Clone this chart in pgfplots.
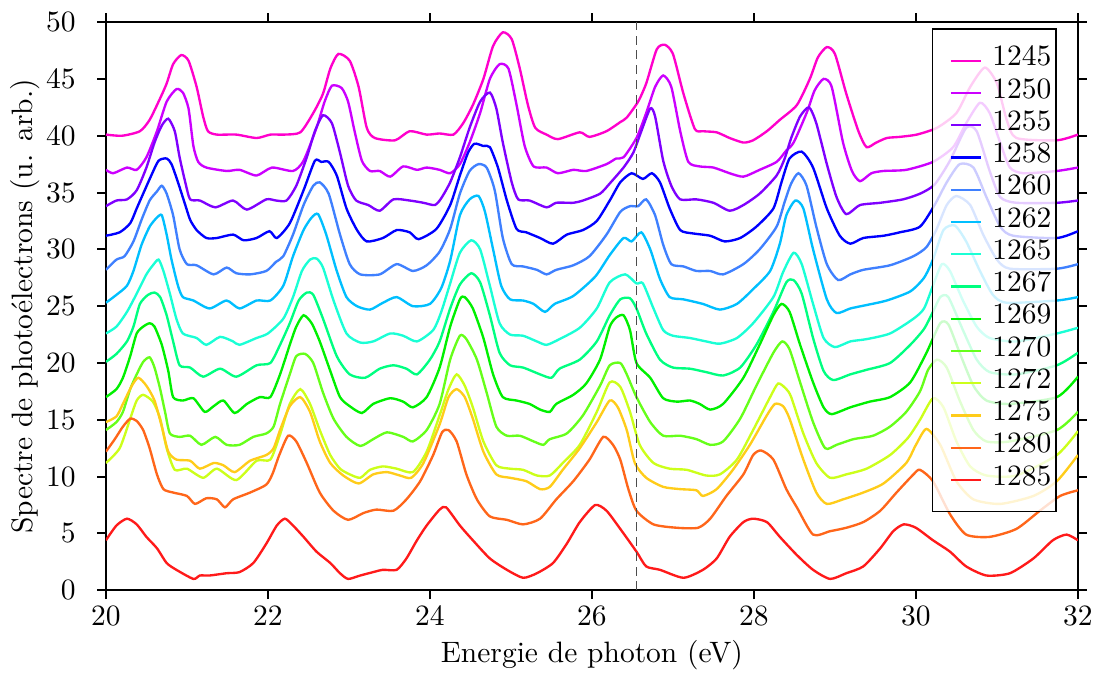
\documentclass[border=0pt]{standalone}
\usepackage{pgfplots}
\pgfplotsset{compat=1.18}
\definecolor{c1245}{HTML}{FF00CC}
\definecolor{c1250}{HTML}{CC00FF}
\definecolor{c1255}{HTML}{7F00FF}
\definecolor{c1258}{HTML}{0000FF}
\definecolor{c1260}{HTML}{3F80FF}
\definecolor{c1262}{HTML}{00BFFF}
\definecolor{c1265}{HTML}{1AFFD5}
\definecolor{c1267}{HTML}{00FF80}
\definecolor{c1269}{HTML}{00F000}
\definecolor{c1270}{HTML}{66FF1A}
\definecolor{c1272}{HTML}{CCFF1A}
\definecolor{c1275}{HTML}{FFCC1A}
\definecolor{c1280}{HTML}{FF661A}
\definecolor{c1285}{HTML}{FF1A1A}
\begin{document}
\begin{tikzpicture}
\begin{axis}[
  scale only axis, width=329.5pt, height=192.6pt,
  xmin=20, xmax=32, ymin=0, ymax=50,
  xtick={20,22,...,32}, ytick={0,5,...,50},
  tick align=outside, major tick length=3pt,
  axis line style={line width=0.7pt},
  tick style={line width=0.7pt, black},
  yticklabel style={xshift=-3.7pt},
  xticklabel style={yshift=1.2pt},
  xlabel={Energie de photon (eV)},
  ylabel={Spectre de photoélectrons (u. arb.)},
  xlabel style={at={(axis description cs:0.5,0)}, yshift=-21.9pt, anchor=center},
  ylabel style={at={(axis description cs:-0.0833,0.5)}, anchor=center},
  every axis plot/.append style={line width=0.8pt, smooth, tension=0.4},
  legend cell align=left,
  legend image code/.code={\path (0pt,0pt) (18pt,0pt); \draw[#1] (5.3pt,0pt) -- (15.5pt,0pt);},
  legend style={at={(0.978,0.989)}, anchor=north east, draw=black, line width=0.5pt,
    fill=white, fill opacity=0.8, draw opacity=1, text opacity=1,
    inner xsep=0.5pt, inner ysep=4.9pt, row sep=-0.77pt,
    nodes={inner sep=1pt, text height=6.6pt, text depth=3.1pt}, font=\normalsize},
]
\addplot[c1245] coordinates {(20.0,40.1) (20.2,40.0) (20.42,40.4) (20.54,41.4) (20.67,43.3) (20.75,44.6) (20.83,46.3) (20.93,47.1) (21.02,46.6) (21.12,44.3) (21.2,41.7) (21.26,40.4) (21.37,40.1) (21.61,40.1) (21.86,39.8) (22.03,40.1) (22.2,40.1) (22.4,40.3) (22.56,42.0) (22.68,43.7) (22.77,45.9) (22.87,47.2) (23.01,46.6) (23.12,44.3) (23.22,40.7) (23.32,39.8) (23.57,39.6) (23.75,40.4) (23.96,40.1) (24.12,40.2) (24.29,40.1) (24.41,41.1) (24.53,42.7) (24.66,45.0) (24.78,47.9) (24.9,49.1) (25.01,48.5) (25.11,45.9) (25.21,42.7) (25.3,40.7) (25.44,40.1) (25.58,39.7) (25.85,40.3) (25.97,39.9) (26.18,40.4) (26.35,41.2) (26.43,41.6) (26.57,43.0) (26.67,44.6) (26.8,47.6) (26.9,48.0) (27.0,47.2) (27.13,43.7) (27.27,40.6) (27.37,40.4) (27.54,40.3) (27.7,39.8) (27.87,39.4) (27.99,39.6) (28.16,40.4) (28.32,41.4) (28.53,42.7) (28.69,45.0) (28.79,46.9) (28.9,47.8) (29.0,47.2) (29.14,43.7) (29.29,40.4) (29.39,39.0) (29.51,39.4) (29.64,39.8) (29.8,39.9) (30.01,40.1) (30.26,40.7) (30.5,42.0) (30.67,44.3) (30.85,46.0) (31.0,44.6) (31.12,41.4) (31.24,39.8) (31.74,39.6) (32.0,40.1)};
\addlegendentry{1245}
\addplot[c1250] coordinates {(20.0,37.0) (20.09,36.7) (20.26,37.2) (20.38,37.0) (20.5,38.1) (20.63,40.4) (20.75,43.0) (20.87,44.1) (20.95,43.8) (21.02,42.4) (21.08,39.1) (21.14,37.7) (21.24,37.2) (21.49,36.9) (21.65,37.0) (21.86,36.5) (22.05,37.2) (22.31,36.9) (22.44,37.8) (22.6,40.7) (22.7,43.0) (22.79,44.4) (22.91,44.2) (22.99,43.0) (23.07,40.4) (23.16,37.8) (23.26,36.9) (23.38,36.9) (23.51,36.4) (23.67,37.3) (23.84,37.0) (23.96,37.2) (24.12,37.0) (24.25,36.7) (24.37,37.5) (24.49,39.4) (24.62,42.0) (24.74,45.0) (24.86,46.3) (24.97,45.9) (25.07,42.7) (25.17,39.1) (25.28,37.3) (25.44,37.2) (25.58,36.7) (25.77,37.0) (25.93,36.9) (26.18,37.5) (26.3,38.0) (26.39,38.1) (26.55,39.8) (26.67,42.0) (26.78,44.3) (26.88,45.3) (26.98,44.3) (27.09,40.4) (27.19,37.7) (27.33,37.3) (27.5,37.2) (27.7,36.7) (27.87,36.4) (28.07,37.0) (28.28,37.7) (28.4,38.7) (28.49,39.4) (28.65,42.0) (28.75,44.0) (28.86,45.0) (28.96,44.3) (29.1,39.4) (29.21,36.9) (29.31,36.0) (29.45,36.7) (29.6,36.9) (29.88,37.0) (30.21,37.7) (30.46,39.0) (30.62,41.1) (30.79,42.9) (30.91,42.0) (31.04,39.4) (31.16,37.2) (31.33,36.7) (31.74,36.9) (32.0,37.2)};
\addlegendentry{1250}
\addplot[c1255] coordinates {(20.0,33.8) (20.13,34.3) (20.26,34.4) (20.38,35.2) (20.5,37.2) (20.6,39.4) (20.69,40.9) (20.77,41.5) (20.85,40.4) (20.91,38.1) (20.98,35.9) (21.04,34.4) (21.16,34.3) (21.35,33.7) (21.57,34.3) (21.74,33.5) (21.98,34.4) (22.1,34.3) (22.23,34.3) (22.35,35.6) (22.48,38.1) (22.58,40.4) (22.68,41.8) (22.79,41.1) (22.89,38.5) (22.99,35.6) (23.09,34.3) (23.24,33.9) (23.38,33.4) (23.55,34.4) (23.75,34.3) (23.92,34.1) (24.06,33.9) (24.14,34.5) (24.25,35.9) (24.37,38.1) (24.49,40.7) (24.62,43.0) (24.74,43.8) (24.82,42.4) (24.9,39.4) (25.01,35.9) (25.09,34.4) (25.23,34.3) (25.44,33.7) (25.56,34.1) (25.77,34.1) (25.89,34.3) (26.1,34.9) (26.22,35.8) (26.39,37.2) (26.51,38.5) (26.61,40.4) (26.72,42.4) (26.78,41.7) (26.88,37.8) (26.98,35.6) (27.09,34.4) (27.29,34.4) (27.5,34.1) (27.7,33.4) (27.87,33.9) (28.07,34.9) (28.28,36.5) (28.38,38.0) (28.46,39.8) (28.57,41.7) (28.68,42.5) (28.77,41.1) (28.9,37.5) (29.02,34.6) (29.14,33.1) (29.31,33.9) (29.56,34.1) (29.84,34.4) (30.05,34.9) (30.23,35.7) (30.42,37.8) (30.62,40.7) (30.75,40.4) (30.91,36.9) (31.04,34.6) (31.24,34.1) (31.74,34.1) (32.0,34.3)};
\addlegendentry{1255}
\addplot[c1258] coordinates {(20.0,31.2) (20.17,31.5) (20.3,32.3) (20.38,33.6) (20.46,34.9) (20.56,36.5) (20.65,37.8) (20.75,38.0) (20.81,37.5) (20.89,35.9) (20.98,33.9) (21.04,32.6) (21.12,31.7) (21.24,31.0) (21.37,31.0) (21.57,31.3) (21.7,30.8) (21.86,31.0) (22.02,31.6) (22.11,31.0) (22.27,32.3) (22.44,35.2) (22.58,37.8) (22.66,37.7) (22.75,37.7) (22.85,36.5) (22.97,33.6) (23.1,31.7) (23.22,30.7) (23.42,31.0) (23.59,31.7) (23.75,31.5) (23.86,30.9) (24.08,31.8) (24.25,33.9) (24.37,36.5) (24.47,38.5) (24.55,39.3) (24.66,39.1) (24.74,39.0) (24.84,37.2) (24.95,34.3) (25.07,31.8) (25.19,31.5) (25.36,31.0) (25.52,30.5) (25.69,31.3) (25.89,31.7) (26.06,32.5) (26.22,34.3) (26.35,35.9) (26.49,36.7) (26.63,36.2) (26.74,36.7) (26.84,35.9) (26.96,33.6) (27.09,31.7) (27.25,31.4) (27.46,31.2) (27.64,30.7) (27.83,31.0) (28.03,32.0) (28.24,33.6) (28.34,35.9) (28.44,38.0) (28.59,38.6) (28.73,37.2) (28.9,33.6) (29.06,31.2) (29.19,30.5) (29.35,31.0) (29.6,31.2) (29.8,31.5) (30.05,32.0) (30.23,33.9) (30.38,35.9) (30.54,37.5) (30.71,37.2) (30.87,34.6) (31.04,32.0) (31.2,31.2) (31.74,31.0) (32.0,31.6)};
\addlegendentry{1258}
\addplot[c1260] coordinates {(20.0,28.2) (20.13,29.1) (20.23,29.4) (20.34,30.7) (20.44,32.6) (20.54,34.3) (20.63,35.1) (20.69,35.6) (20.75,34.9) (20.83,33.0) (20.91,30.0) (21.0,28.7) (21.12,28.6) (21.33,27.8) (21.49,28.4) (21.61,27.9) (21.78,27.8) (21.98,28.1) (22.1,28.9) (22.19,29.4) (22.31,31.3) (22.44,33.9) (22.56,35.6) (22.64,35.9) (22.75,34.9) (22.89,31.3) (23.01,28.7) (23.14,27.8) (23.38,27.8) (23.59,28.7) (23.79,28.1) (23.96,28.6) (24.12,29.8) (24.25,31.8) (24.37,34.9) (24.49,36.9) (24.6,37.5) (24.7,37.2) (24.8,35.2) (24.9,31.0) (25.01,28.7) (25.15,28.5) (25.32,28.2) (25.44,27.8) (25.56,28.2) (25.77,28.6) (25.97,29.4) (26.18,31.3) (26.35,33.3) (26.47,33.8) (26.57,33.8) (26.67,34.4) (26.78,33.0) (26.88,30.4) (26.98,28.7) (27.13,28.5) (27.29,28.1) (27.46,28.1) (27.62,27.8) (27.87,28.7) (28.07,30.0) (28.28,32.0) (28.38,34.2) (28.46,35.8) (28.55,36.7) (28.65,35.6) (28.77,32.0) (28.9,28.7) (29.04,27.3) (29.19,27.8) (29.35,28.2) (29.68,28.6) (29.97,29.4) (30.13,30.2) (30.25,31.7) (30.38,33.9) (30.5,34.7) (30.67,33.9) (30.83,31.3) (31.0,29.1) (31.16,28.3) (31.74,28.3) (32.0,28.7)};
\addlegendentry{1260}
\addplot[c1262] coordinates {(20.0,25.3) (20.13,26.0) (20.26,26.8) (20.34,28.1) (20.44,30.4) (20.54,32.0) (20.63,32.8) (20.69,33.0) (20.75,31.3) (20.81,29.1) (20.89,26.8) (20.95,25.8) (21.08,25.5) (21.28,24.8) (21.49,25.5) (21.65,24.8) (21.86,25.5) (22.03,25.5) (22.19,26.8) (22.31,29.4) (22.44,31.7) (22.54,32.8) (22.62,33.1) (22.72,31.3) (22.85,28.1) (22.97,25.8) (23.1,25.0) (23.26,24.7) (23.42,25.3) (23.59,25.8) (23.79,25.0) (24.0,25.2) (24.14,26.6) (24.25,29.0) (24.37,33.0) (24.49,34.4) (24.6,34.7) (24.68,33.3) (24.78,30.0) (24.88,26.8) (24.99,25.6) (25.15,25.5) (25.28,25.2) (25.42,24.5) (25.54,25.2) (25.77,25.9) (26.04,27.6) (26.22,29.5) (26.39,31.0) (26.49,30.7) (26.61,31.5) (26.72,30.0) (26.84,27.4) (26.96,25.8) (27.13,25.6) (27.37,25.2) (27.58,24.7) (27.79,25.2) (27.99,26.5) (28.2,28.1) (28.32,30.5) (28.4,33.0) (28.51,34.3) (28.61,33.6) (28.73,30.0) (28.9,25.6) (29.02,24.4) (29.19,24.8) (29.39,25.1) (29.64,25.5) (29.93,26.3) (30.1,27.5) (30.21,29.1) (30.34,31.7) (30.48,32.1) (30.62,30.7) (30.79,28.1) (30.95,26.0) (31.12,25.3) (31.74,25.5) (32.0,25.8)};
\addlegendentry{1262}
\addplot[c1265] coordinates {(20.0,22.6) (20.13,23.2) (20.26,24.5) (20.38,26.1) (20.5,27.8) (20.58,28.6) (20.65,29.1) (20.71,28.1) (20.79,26.1) (20.87,23.9) (20.95,22.6) (21.12,22.2) (21.24,21.6) (21.41,22.3) (21.57,21.9) (21.65,21.6) (21.86,22.2) (22.0,22.6) (22.19,23.9) (22.31,25.8) (22.42,28.1) (22.52,29.1) (22.6,29.2) (22.68,28.4) (22.81,25.5) (22.97,22.6) (23.14,21.8) (23.3,21.9) (23.51,22.6) (23.67,22.4) (23.84,21.9) (24.04,22.9) (24.14,24.5) (24.25,27.0) (24.37,29.7) (24.51,30.8) (24.62,30.0) (24.74,26.8) (24.86,23.5) (24.99,22.5) (25.15,22.4) (25.32,21.9) (25.44,21.6) (25.6,22.1) (25.85,23.1) (26.06,24.8) (26.22,27.1) (26.41,27.8) (26.55,27.0) (26.63,27.0) (26.76,24.8) (26.88,22.9) (27.0,22.4) (27.21,22.2) (27.41,21.9) (27.58,21.7) (27.79,22.2) (27.99,23.5) (28.24,25.8) (28.36,28.0) (28.49,29.7) (28.59,28.7) (28.73,25.2) (28.86,22.2) (29.0,21.4) (29.19,21.9) (29.39,22.1) (29.68,22.6) (29.97,23.9) (30.1,24.8) (30.21,26.8) (30.32,28.7) (30.42,28.1) (30.58,25.5) (30.75,23.2) (30.91,22.2) (31.24,21.9) (31.74,22.6) (32.0,23.1)};
\addlegendentry{1265}
\addplot[c1267] coordinates {(20.0,20.1) (20.13,20.8) (20.26,21.9) (20.34,23.2) (20.42,25.2) (20.52,26.0) (20.6,26.2) (20.67,25.8) (20.75,24.2) (20.83,21.9) (20.91,19.8) (21.04,19.6) (21.2,18.8) (21.41,19.5) (21.61,18.8) (21.86,19.8) (22.03,20.0) (22.15,21.6) (22.27,23.5) (22.38,25.5) (22.48,26.2) (22.56,26.0) (22.68,23.9) (22.85,20.6) (23.01,19.0) (23.2,18.7) (23.38,19.5) (23.55,19.8) (23.71,19.5) (23.84,19.0) (24.0,20.3) (24.12,21.9) (24.25,24.8) (24.37,26.9) (24.51,27.9) (24.62,27.1) (24.74,24.2) (24.86,20.9) (24.99,19.8) (25.15,19.6) (25.36,19.0) (25.5,18.7) (25.6,19.5) (25.85,20.3) (26.06,21.9) (26.22,24.2) (26.35,25.6) (26.47,25.7) (26.55,24.8) (26.67,22.6) (26.84,20.3) (27.0,19.6) (27.21,19.5) (27.41,19.2) (27.62,18.9) (27.83,19.6) (28.03,21.6) (28.24,24.5) (28.4,27.1) (28.49,27.3) (28.59,26.1) (28.73,22.2) (28.86,19.3) (28.98,18.5) (29.19,19.0) (29.39,19.4) (29.68,20.0) (29.93,21.6) (30.1,23.0) (30.21,24.5) (30.3,25.8) (30.4,25.8) (30.58,22.9) (30.75,20.3) (30.91,19.2) (31.24,19.0) (31.74,19.8) (32.0,20.9)};
\addlegendentry{1267}
\addplot[c1269] coordinates {(20.0,17.0) (20.13,17.7) (20.21,18.7) (20.3,20.6) (20.38,22.6) (20.46,23.2) (20.54,23.5) (20.6,23.2) (20.69,21.6) (20.77,19.3) (20.83,17.0) (20.95,16.7) (21.08,16.9) (21.22,15.7) (21.33,16.2) (21.45,16.7) (21.59,15.6) (21.74,16.4) (21.9,17.0) (22.03,17.0) (22.15,19.0) (22.27,21.6) (22.35,23.2) (22.44,24.2) (22.54,23.5) (22.64,21.9) (22.77,19.3) (22.89,17.0) (23.01,16.2) (23.16,15.6) (23.3,16.4) (23.51,16.9) (23.67,16.6) (23.79,16.1) (23.96,17.0) (24.12,19.6) (24.25,23.2) (24.37,25.6) (24.43,25.8) (24.53,24.8) (24.66,22.2) (24.78,19.0) (24.9,17.0) (25.07,16.7) (25.23,16.4) (25.36,15.9) (25.48,15.7) (25.56,16.4) (25.77,17.2) (25.93,18.2) (26.1,20.3) (26.22,23.2) (26.3,24.0) (26.39,24.2) (26.47,22.9) (26.55,20.0) (26.72,18.7) (26.88,16.9) (27.05,16.6) (27.21,16.7) (27.33,16.4) (27.46,15.9) (27.62,16.4) (27.87,18.7) (28.07,21.6) (28.24,24.2) (28.34,25.2) (28.44,24.5) (28.57,21.6) (28.73,18.3) (28.86,16.1) (28.96,15.5) (29.19,16.1) (29.43,16.6) (29.68,17.0) (29.93,18.3) (30.13,20.9) (30.3,23.5) (30.4,23.4) (30.54,20.9) (30.71,18.0) (30.87,16.7) (31.16,16.4) (31.74,17.0) (32.0,18.8)};
\addlegendentry{1269}
\addplot[c1270] coordinates {(20.0,14.1) (20.13,14.8) (20.21,15.7) (20.3,17.7) (20.38,19.0) (20.46,20.1) (20.54,20.5) (20.6,19.6) (20.67,17.7) (20.73,15.7) (20.79,13.8) (20.91,13.5) (21.04,13.6) (21.18,12.8) (21.35,13.5) (21.49,12.8) (21.65,12.8) (21.82,13.5) (21.98,13.8) (22.07,14.4) (22.15,16.4) (22.27,19.0) (22.35,20.6) (22.46,20.8) (22.56,20.0) (22.68,17.4) (22.81,15.1) (22.97,13.5) (23.14,12.7) (23.3,13.3) (23.47,13.9) (23.67,13.5) (23.79,13.1) (23.96,14.1) (24.12,16.4) (24.25,20.3) (24.37,22.4) (24.45,22.1) (24.58,20.3) (24.7,17.4) (24.82,14.4) (24.95,13.6) (25.11,13.6) (25.28,13.1) (25.4,12.8) (25.48,13.3) (25.69,13.8) (25.89,15.4) (26.1,18.0) (26.22,19.8) (26.35,20.0) (26.43,19.0) (26.55,17.0) (26.72,14.8) (26.88,13.6) (27.09,13.6) (27.29,13.3) (27.46,12.8) (27.62,13.1) (27.83,15.1) (28.03,18.0) (28.24,20.9) (28.35,21.9) (28.44,21.2) (28.57,18.3) (28.73,14.8) (28.88,12.5) (29.02,12.8) (29.23,13.3) (29.47,13.6) (29.68,14.4) (29.88,15.7) (30.05,17.5) (30.15,19.4) (30.26,20.3) (30.38,19.6) (30.54,16.7) (30.71,14.1) (30.87,13.1) (31.16,13.1) (31.74,14.1) (32.0,15.7)};
\addlegendentry{1270}
\addplot[c1272] coordinates {(20.0,11.2) (20.17,12.5) (20.3,15.1) (20.38,16.7) (20.46,17.2) (20.58,16.6) (20.67,15.1) (20.75,12.5) (20.85,10.6) (21.0,10.7) (21.2,9.9) (21.37,10.7) (21.61,9.7) (21.86,11.4) (22.03,11.5) (22.15,13.7) (22.27,16.4) (22.4,17.7) (22.52,16.4) (22.64,14.1) (22.77,11.9) (22.89,10.7) (23.01,10.2) (23.14,9.9) (23.26,10.6) (23.42,10.9) (23.59,10.7) (23.79,10.4) (23.96,12.2) (24.12,15.4) (24.23,17.7) (24.33,19.0) (24.43,18.0) (24.53,16.1) (24.66,13.1) (24.82,11.0) (24.99,10.7) (25.15,10.6) (25.32,10.1) (25.48,10.1) (25.64,11.2) (25.85,12.8) (26.06,15.7) (26.22,18.3) (26.35,17.9) (26.47,15.7) (26.59,12.8) (26.76,11.2) (26.96,10.7) (27.17,10.6) (27.41,10.1) (27.58,10.2) (27.79,11.5) (27.99,14.1) (28.2,17.0) (28.3,18.2) (28.4,17.7) (28.46,17.0) (28.61,13.8) (28.77,11.2) (28.94,9.9) (29.14,10.2) (29.39,10.7) (29.68,11.9) (29.9,13.4) (30.05,15.0) (30.21,16.9) (30.34,16.1) (30.5,13.1) (30.67,10.9) (30.87,10.1) (31.24,10.1) (31.74,11.9) (32.0,14.0)};
\addlegendentry{1272}
\addplot[c1275] coordinates {(20.0,14.8) (20.13,15.3) (20.21,16.4) (20.32,18.0) (20.4,18.7) (20.5,18.0) (20.6,16.7) (20.69,14.4) (20.77,12.2) (20.87,11.5) (21.04,11.4) (21.16,10.7) (21.33,11.2) (21.45,11.0) (21.59,10.4) (21.78,11.4) (21.98,11.9) (22.07,12.5) (22.15,14.1) (22.27,16.2) (22.4,17.0) (22.52,15.7) (22.64,13.1) (22.77,11.2) (22.93,10.1) (23.12,9.4) (23.3,10.2) (23.47,10.4) (23.63,10.1) (23.77,9.9) (23.92,11.2) (24.12,14.6) (24.23,17.0) (24.33,17.7) (24.43,17.0) (24.53,15.1) (24.66,12.2) (24.82,10.2) (24.99,9.9) (25.19,9.6) (25.36,8.9) (25.48,9.1) (25.64,10.6) (25.85,12.5) (26.06,14.8) (26.22,16.7) (26.32,16.1) (26.43,14.1) (26.53,11.2) (26.67,9.9) (26.88,9.1) (27.09,8.9) (27.29,8.8) (27.37,8.3) (27.54,8.9) (27.74,10.6) (27.95,12.8) (28.16,15.4) (28.26,16.4) (28.36,16.2) (28.44,15.1) (28.61,11.5) (28.77,8.6) (28.9,7.6) (29.1,8.0) (29.35,8.6) (29.6,9.4) (29.88,11.2) (30.0,12.8) (30.13,14.2) (30.3,12.8) (30.5,9.6) (30.71,8.0) (31.04,7.6) (31.45,8.3) (31.74,9.6) (32.0,11.9)};
\addlegendentry{1275}
\addplot[c1280] coordinates {(20.0,12.2) (20.11,13.3) (20.21,14.4) (20.3,15.1) (20.38,14.9) (20.46,14.1) (20.54,12.5) (20.63,10.2) (20.71,8.9) (20.83,8.6) (21.0,8.3) (21.1,7.6) (21.24,8.1) (21.37,8.0) (21.47,7.3) (21.57,8.0) (21.78,8.6) (21.98,9.3) (22.06,10.3) (22.14,11.9) (22.25,13.6) (22.35,13.1) (22.48,11.2) (22.64,8.6) (22.81,7.0) (22.99,6.2) (23.18,6.8) (23.34,7.1) (23.55,7.0) (23.71,8.0) (23.88,9.6) (24.04,11.9) (24.15,13.9) (24.23,14.1) (24.33,13.1) (24.45,10.2) (24.58,8.0) (24.74,6.5) (24.95,6.2) (25.15,5.8) (25.36,6.3) (25.56,8.0) (25.77,9.6) (25.97,11.5) (26.14,13.5) (26.26,12.8) (26.35,11.5) (26.45,8.9) (26.55,7.0) (26.76,5.8) (27.05,5.5) (27.31,5.5) (27.46,6.3) (27.66,8.3) (27.87,10.2) (27.99,11.9) (28.09,12.3) (28.24,11.5) (28.4,8.9) (28.53,7.3) (28.73,4.9) (28.94,5.2) (29.14,5.5) (29.35,6.0) (29.56,7.0) (29.76,8.6) (29.97,10.2) (30.05,10.6) (30.21,9.6) (30.42,6.7) (30.62,4.9) (30.91,4.7) (31.24,5.4) (31.53,7.0) (31.78,8.3) (32.0,8.8)};
\addlegendentry{1280}
\addplot[c1285] coordinates {(20.0,4.4) (20.13,5.7) (20.26,6.3) (20.38,5.8) (20.5,4.7) (20.63,3.7) (20.75,2.4) (20.87,1.8) (21.08,1.0) (21.16,1.3) (21.28,1.3) (21.49,1.5) (21.65,1.6) (21.82,2.4) (21.98,4.1) (22.11,5.7) (22.21,6.3) (22.31,5.7) (22.44,4.7) (22.6,3.4) (22.77,2.4) (22.89,1.5) (22.99,1.0) (23.14,1.3) (23.3,1.6) (23.42,1.8) (23.59,1.8) (23.71,2.8) (23.84,4.4) (23.96,5.7) (24.12,7.1) (24.2,7.3) (24.37,5.7) (24.53,4.4) (24.74,2.8) (24.95,1.8) (25.15,1.1) (25.32,1.5) (25.52,2.4) (25.69,4.1) (25.85,6.0) (26.04,7.5) (26.18,7.0) (26.35,5.4) (26.55,3.4) (26.67,2.1) (26.84,1.8) (27.13,1.1) (27.37,1.8) (27.54,2.8) (27.7,4.7) (27.87,6.0) (27.99,6.3) (28.16,6.0) (28.32,4.7) (28.53,3.1) (28.73,1.8) (28.94,1.0) (29.14,1.5) (29.35,2.1) (29.56,3.7) (29.72,5.2) (29.85,5.8) (30.0,5.5) (30.21,4.4) (30.42,3.4) (30.62,2.1) (30.87,1.3) (31.16,1.5) (31.45,2.8) (31.69,4.4) (31.86,4.9) (32.0,4.4)};
\addlegendentry{1285}
\addplot[forget plot, black!70, line width=0.6pt, densely dashed, sharp plot] coordinates {(26.55,0) (26.55,50)};
\end{axis}
\pgfresetboundingbox
\path[use as bounding box] ([shift={(-35.9pt,-28.1pt)}]current axis.south west) rectangle ([shift={(6.8pt,7.5pt)}]current axis.north east);
\end{tikzpicture}
\end{document}
